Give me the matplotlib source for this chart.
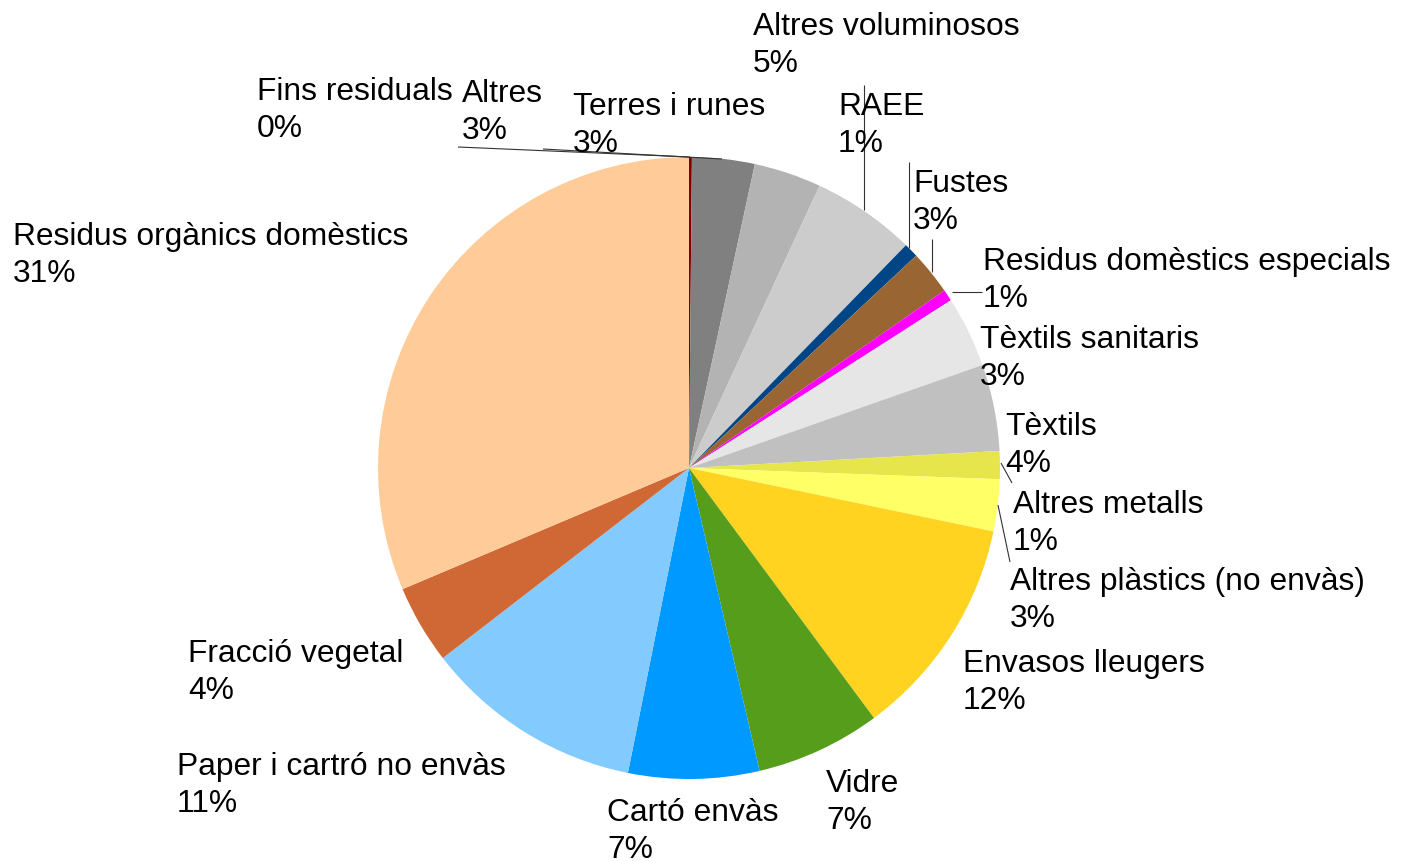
import matplotlib
matplotlib.use("Agg")
import matplotlib.pyplot as plt

# Data (clockwise from 12 o'clock)
categories = [
    "Fins residuals", "Altres", "Terres i runes", "Altres voluminosos", "RAEE",
    "Fustes", "Residus domèstics especials", "Tèxtils sanitaris", "Tèxtils",
    "Altres metalls", "Altres plàstics (no envàs)", "Envasos lleugers", "Vidre",
    "Cartó envàs", "Paper i cartró no envàs", "Fracció vegetal",
    "Residus orgànics domèstics",
]
values = [0.15, 3.25, 3.5, 5.4, 0.75, 2.3, 0.6, 3.7, 4.5, 1.45, 2.7,
          11.6, 6.5, 6.8, 11.4, 4.1, 31.4]
pct_labels = ["0%", "3%", "3%", "5%", "1%", "3%", "1%", "3%", "4%", "1%", "3%",
              "12%", "7%", "7%", "11%", "4%", "31%"]
colors = ["#800000", "#808080", "#B3B3B3", "#CCCCCC", "#004586", "#996633",
          "#FF00FF", "#E6E6E6", "#C0C0C0", "#E6E64C", "#FFFF66", "#FFD320",
          "#579D1C", "#0099FF", "#83CAFF", "#CF6835", "#FFCC99"]

W, H = 1406, 861
fig = plt.figure(figsize=(W / 100, H / 100), dpi=100)
ax = fig.add_axes([0, 0, 1, 1])

cx, cy, r = 689, 468, 311
ax.pie(values, colors=colors, startangle=90, counterclock=False,
       center=(cx, H - cy), radius=r, wedgeprops=dict(linewidth=0))
ax.set_xlim(0, W)
ax.set_ylim(0, H)
ax.set_aspect("equal")
ax.axis("off")

# label positions (left x, first-line baseline y) in pixel coords
label_pos = {
    "Fins residuals": (257, 100),
    "Altres": (462, 102),
    "Terres i runes": (573, 115),
    "Altres voluminosos": (753, 35),
    "RAEE": (838, 115),
    "Fustes": (913, 192),
    "Residus domèstics especials": (983, 270),
    "Tèxtils sanitaris": (980, 348),
    "Tèxtils": (1005, 435),
    "Altres metalls": (1013, 513),
    "Altres plàstics (no envàs)": (1010, 590),
    "Envasos lleugers": (963, 672),
    "Vidre": (826, 792),
    "Cartó envàs": (607, 821),
    "Paper i cartró no envàs": (177, 775),
    "Fracció vegetal": (188, 662),
    "Residus orgànics domèstics": (13, 245),
}
line_gap = 37
font = dict(family=["Liberation Sans", "DejaVu Sans"], size=22.9, color="black")

# leader lines in pixel coords
leaders = [
    ((458, 147), (690, 157)),
    ((543, 149), (722, 159)),
    ((864, 85), (864, 210)),
    ((909, 162), (909, 248)),
    ((932, 239), (932, 272)),
    ((952, 292), (982, 292)),
    ((1001, 463), (1012, 483)),
    ((998, 505), (1010, 562)),
]
for (x0, y0), (x1, y1) in leaders:
    ax.plot([x0, x1], [H - y0, H - y1], color="#333333", lw=0.8,
            solid_capstyle="butt", zorder=3)

for cat, pct in zip(categories, pct_labels):
    x, y = label_pos[cat]
    ax.text(x, H - y, cat, ha="left", va="baseline", zorder=4, **font)
    ax.text(x, H - y - line_gap, pct, ha="left", va="baseline", zorder=4, **font)

fig.savefig("out.png", dpi=100)
